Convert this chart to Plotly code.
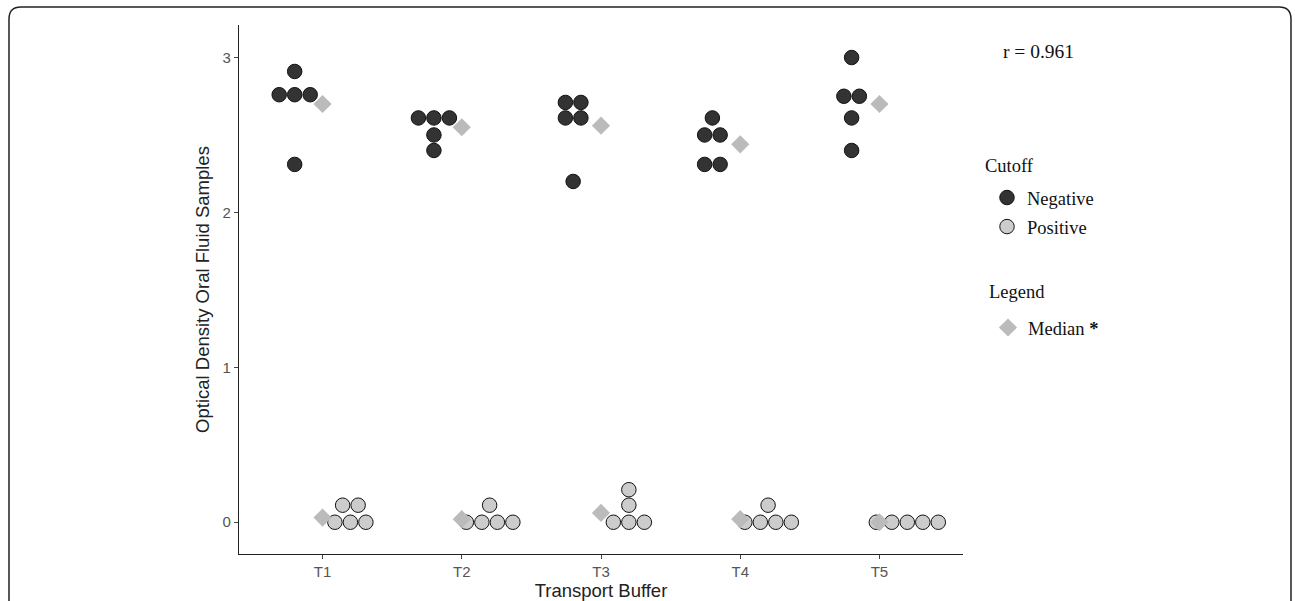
import plotly.graph_objects as go
from collections import Counter

# ---------------- data ----------------
buffers = ["T1", "T2", "T3", "T4", "T5"]

negative_values = [
    [2.91, 2.76, 2.76, 2.76, 2.31],
    [2.61, 2.61, 2.61, 2.50, 2.40],
    [2.71, 2.71, 2.61, 2.61, 2.20],
    [2.61, 2.50, 2.50, 2.31, 2.31],
    [3.00, 2.75, 2.75, 2.61, 2.40],
]
positive_values = [
    [0.11, 0.11, 0.0, 0.0, 0.0],
    [0.11, 0.0, 0.0, 0.0, 0.0],
    [0.21, 0.11, 0.0, 0.0, 0.0],
    [0.11, 0.0, 0.0, 0.0, 0.0],
    [0.0, 0.0, 0.0, 0.0, 0.0],
]
median_negative = [2.70, 2.55, 2.56, 2.44, 2.70]
median_positive = [0.03, 0.02, 0.06, 0.02, 0.00]

y_ticks = [0, 1, 2, 3]
r_text = "r = 0.961"
legend_titles = ["Cutoff", "Legend"]

# ---------------- layout helpers ----------------
W, H = 1295, 601
L, R, T, B = 239, 963, 25, 554     # plot area in pixels
XR = [0.4, 5.6]
YR = [-0.205, 3.21]
px_per_x = (R - L) / (XR[1] - XR[0])
dot_px = 15.5
step = dot_px / px_per_x
dodge = 0.2


def to_paper(sx, sy):
    return (sx - L) / (R - L), (B - sy) / (B - T)


def stack(groups, offset):
    xs, ys = [], []
    for i, vals in enumerate(groups):
        centre = i + 1 + offset
        for v, n in Counter(vals).items():
            for k in range(n):
                xs.append(centre + (k - (n - 1) / 2) * step)
                ys.append(v)
    return xs, ys


nx, ny = stack(negative_values, -dodge)
px_, py_ = stack(positive_values, dodge)
cat_x = [i + 1 for i in range(len(buffers))]

fig = go.Figure()

serif = "Liberation Serif"
sans = "Liberation Sans"

fig.add_trace(go.Scatter(
    x=nx, y=ny, mode="markers", name="Negative", legend="legend",
    legendgroup="neg",
    marker=dict(size=14.5, color="#333333", line=dict(color="#111111", width=1)),
))
fig.add_trace(go.Scatter(
    x=px_, y=py_, mode="markers", name="Positive", legend="legend",
    legendgroup="pos",
    marker=dict(size=14.5, color="#cccccc", line=dict(color="#111111", width=1)),
))
fig.add_trace(go.Scatter(
    x=cat_x + cat_x, y=median_negative + median_positive, mode="markers",
    name="Median <b>*</b>", legend="legend2",
    marker=dict(size=14, symbol="diamond", color="#bbbbbb", line=dict(width=0)),
))

# frame with rounded corners
fl, fr, ft, fb, rad = 9, 1291, 7, 640, 12
pts = [
    ("M", [(fl, fb)]), ("L", [(fl, ft + rad)]), ("Q", [(fl, ft), (fl + rad, ft)]),
    ("L", [(fr - rad, ft)]), ("Q", [(fr, ft), (fr, ft + rad)]), ("L", [(fr, fb)]),
]
path = ""
for cmd, coords in pts:
    path += cmd + " " + " ".join("%.5f,%.5f" % to_paper(a, b) for a, b in coords) + " "

fig.add_shape(type="path", path=path.strip(), xref="paper", yref="paper",
              line=dict(color="#222222", width=1.5), layer="above")

ax, ay = to_paper(1001, 51)
fig.add_annotation(x=ax, y=ay, xref="paper", yref="paper", text=r_text,
                   showarrow=False, xanchor="left", yanchor="middle",
                   font=dict(family=serif, size=19.5, color="#111111"))

# legend titles
for txt, (sx, sy) in zip(legend_titles, [(983, 166), (987, 292)]):
    tx, ty = to_paper(sx, sy)
    fig.add_annotation(x=tx, y=ty, xref="paper", yref="paper", text=txt,
                       showarrow=False, xanchor="left", yanchor="middle",
                       font=dict(family=serif, size=18.5, color="#111111"))

l1x, l1y = to_paper(987, 179)
l2x, l2y = to_paper(988, 309)

fig.update_layout(
    width=W, height=H,
    margin=dict(l=L, r=W - R, t=T, b=H - B, autoexpand=False),
    paper_bgcolor="white", plot_bgcolor="white",
    showlegend=True,
    legend=dict(
        x=l1x, y=l1y, xanchor="left", yanchor="top",
        font=dict(family=serif, size=18.5, color="#111111"),
        traceorder="grouped", tracegroupgap=2, itemwidth=30,
        bgcolor="rgba(0,0,0,0)",
    ),
    legend2=dict(
        x=l2x, y=l2y, xanchor="left", yanchor="top",
        font=dict(family=serif, size=18.5, color="#111111"),
        itemwidth=30, bgcolor="rgba(0,0,0,0)",
    ),
    xaxis=dict(
        range=XR, tickmode="array", tickvals=cat_x, ticktext=buffers,
        showgrid=False, zeroline=False, showline=True, linecolor="#222222",
        linewidth=1.3, ticks="outside", ticklen=4, tickcolor="#444444",
        tickfont=dict(family=sans, size=15, color="#555555"),
        title=dict(text="Transport Buffer", standoff=7,
                   font=dict(family=sans, size=18.5, color="#222222")),
    ),
    yaxis=dict(
        range=YR, tickmode="array", tickvals=y_ticks,
        ticktext=[str(v) for v in y_ticks],
        showgrid=False, zeroline=False, showline=True, linecolor="#222222",
        linewidth=1.3, ticks="outside", ticklen=4, tickcolor="#444444",
        tickfont=dict(family=sans, size=15, color="#555555"),
        title=dict(text="Optical Density Oral Fluid Samples", standoff=8,
                   font=dict(family=sans, size=18.5, color="#222222")),
    ),
)

fig.write_html("out.html",
               config={"displayModeBar": False},
               post_script="document.body.style.margin='0px';"
                           "document.documentElement.style.overflow='hidden';")
